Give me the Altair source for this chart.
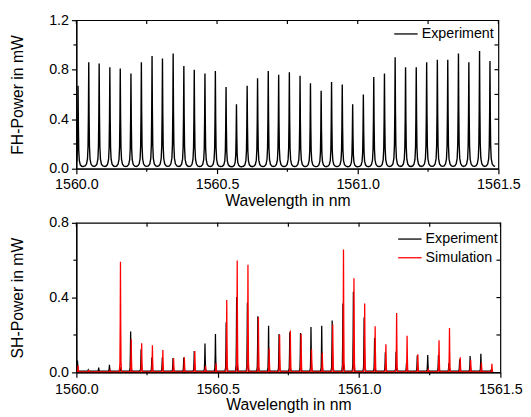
import altair as alt
import pandas as pd

# ---------------- data ----------------
X_DOMAIN = [1560.0, 1561.5]
x_major = [1560.0, 1560.5, 1561.0, 1561.5]
x_minor = [1560.25, 1560.75, 1561.25]
x_quarter = [1560.0, 1560.25, 1560.5, 1560.75, 1561.0, 1561.25, 1561.5]

# comb line positions (nm)
peak_wl = [1560.006, 1560.044, 1560.081, 1560.119, 1560.156, 1560.194, 1560.231, 1560.269,
           1560.306, 1560.344, 1560.382, 1560.419, 1560.457, 1560.494, 1560.532, 1560.569,
           1560.607, 1560.644, 1560.682, 1560.719, 1560.757, 1560.795, 1560.832, 1560.870,
           1560.907, 1560.945, 1560.982, 1561.020, 1561.057, 1561.095, 1561.133, 1561.170,
           1561.208, 1561.245, 1561.283, 1561.320, 1561.358, 1561.395, 1561.433, 1561.470]

# FH peak powers (mW)
fh_exp = [0.67, 0.86, 0.85, 0.82, 0.81, 0.77, 0.86, 0.91, 0.89, 0.93,
          0.83, 0.80, 0.77, 0.79, 0.66, 0.52, 0.67, 0.73, 0.79, 0.76,
          0.78, 0.75, 0.69, 0.63, 0.70, 0.68, 0.52, 0.60, 0.74, 0.77,
          0.90, 0.82, 0.82, 0.86, 0.88, 0.88, 0.93, 0.86, 0.95, 0.87]

# SH peak powers (mW)
sh_exp = [0.063, 0.006, 0.025, 0.040, 0.030, 0.219, 0.124, 0.079, 0.079, 0.077,
          0.080, 0.114, 0.154, 0.205, 0.268, 0.403, 0.373, 0.300, 0.249, 0.205,
          0.215, 0.210, 0.242, 0.250, 0.277, 0.368, 0.431, 0.294, 0.184, 0.107,
          0.110, 0.050, 0.090, 0.093, 0.093, 0.050, 0.070, 0.088, 0.099, 0.014]
sh_sim = [0.037, 0.012, 0.005, 0.010, 0.592, 0.177, 0.156, 0.145, 0.119, 0.077,
          0.081, 0.114, 0.035, 0.049, 0.387, 0.599, 0.576, 0.296, 0.128, 0.201,
          0.224, 0.207, 0.124, 0.105, 0.256, 0.657, 0.504, 0.368, 0.247, 0.151,
          0.317, 0.196, 0.097, 0.020, 0.172, 0.237, 0.081, 0.067, 0.051, 0.046]

# line shape around each comb line (offset in nm -> fraction of peak)
fh_off = [0.0, 0.0012, 0.0025, 0.0045, 0.008, 0.013, 0.0185]
fh_frac = [1.0, 0.5, 0.2, 0.08, 0.03, 0.012, 0.008]
fh_base = 0.012
sh_off = [0.0, 0.0009, 0.002, 0.004]
sh_frac = [1.0, 0.45, 0.08, 0.0]
sh_exp_base = 0.007
sh_sim_base = 0.002
sh_exp_shift = -0.002

series_names = ["Experiment", "Simulation"]
series_colors = ["black", "red"]


def spectrum(centres, peaks, offs, fracs, base, name, shift=0.0):
    rows = []
    for c, pk in zip(centres, peaks):
        for o, f in zip(offs, fracs):
            for s in ([0] if o == 0 else [-1, 1]):
                rows.append((c + shift + s * o, base + (pk - base) * f if pk > base else base + pk * f))
    rows.sort()
    return pd.DataFrame({"wl": [r[0] for r in rows], "p": [r[1] for r in rows], "series": name})


df_fh = spectrum(peak_wl, fh_exp, fh_off, fh_frac, fh_base, "Experiment")
df_sh_exp = spectrum(peak_wl, sh_exp, sh_off, sh_frac, sh_exp_base, "Experiment", sh_exp_shift)
df_sh_sim = spectrum(peak_wl, sh_sim, sh_off, sh_frac, sh_sim_base, "Simulation")

FONT = "Liberation Sans"
W1, H1 = 429, 151
W2, H2 = 431, 152


def make_panel(width, height, ydomain, yvalues, yminor, yright, ytitle, lines, widths,
               color_domain, color_range, legend_x, legend_y, label_pad):
    xscale = alt.Scale(domain=X_DOMAIN, nice=False, zero=False)
    yscale = alt.Scale(domain=ydomain, nice=False, zero=False)
    xaxis = alt.Axis(values=x_major, format=".1f", title="Wavelength in nm", tickSize=5,
                     labelPadding=label_pad, labelFlush=False, labelOverlap=False,
                     titleBaseline="alphabetic", titleY=37.5, grid=False)
    yaxis = alt.Axis(values=yvalues, format=".1f", title=ytitle, tickSize=5, labelPadding=3,
                     labelFlush=False, labelOverlap=False, titleAngle=270, titleBaseline="middle",
                     titleAlign="center", titleX=-59.5, titleY=height / 2, grid=False)
    X = lambda: alt.X("wl:Q", scale=xscale, axis=xaxis)
    Y = lambda: alt.Y("p:Q", scale=yscale, axis=yaxis)
    color = alt.Color("series:N", scale=alt.Scale(domain=color_domain, range=color_range),
                      legend=alt.Legend(title=None, orient="none", legendX=legend_x, legendY=legend_y,
                                        symbolType="M-1.7,0H1.7", symbolSize=196, symbolStrokeWidth=1.3,
                                        labelFontSize=14.5, labelFont=FONT, labelColor="black",
                                        labelOffset=8, padding=0, rowPadding=4))
    layers = []
    for df, sw in zip(lines, widths):
        layers.append(alt.Chart(df).mark_line(strokeWidth=sw, clip=True).encode(x=X(), y=Y(), color=color))

    rule = dict(color="black", strokeWidth=1.2)
    xm = pd.DataFrame({"wl": x_minor})
    xq = pd.DataFrame({"wl": x_quarter})
    ym = pd.DataFrame({"p": yminor})
    yr = pd.DataFrame({"p": yright})
    layers.append(alt.Chart(xm).mark_rule(**rule).encode(x=X(), y=alt.value(height), y2=alt.value(height + 3)))
    layers.append(alt.Chart(xq).mark_rule(**rule).encode(x=X(), y=alt.value(0), y2=alt.value(4)))
    layers.append(alt.Chart(ym).mark_rule(**rule).encode(y=Y(), x=alt.value(0), x2=alt.value(-3)))
    layers.append(alt.Chart(yr).mark_rule(**rule).encode(y=Y(), x=alt.value(width), x2=alt.value(width - 4)))
    return alt.layer(*layers).properties(width=width, height=height)


top = make_panel(W1, H1, [0, 1.2], [0, 0.4, 0.8, 1.2], [0.2, 0.6, 1.0], [0.2, 0.4, 0.6, 0.8, 1.0],
                 "FH-Power in mW", [df_fh], [1.4], ["Experiment"], ["black"], 327, 6, 4)
bottom = make_panel(W2, H2, [0, 0.8], [0, 0.4, 0.8], [0.2, 0.6], [0.2, 0.4, 0.6],
                    "SH-Power in mW", [df_sh_exp, df_sh_sim], [1.3, 1.3], series_names, series_colors,
                    331, 8.5, 5)

chart = alt.vconcat(top, bottom, spacing=55, bounds="flush").resolve_scale(
    x="independent", y="independent", color="independent"
).properties(
    padding={"left": 0.5, "top": 0, "right": 0, "bottom": 0},
).configure(font=FONT).configure_view(
    stroke="black", strokeWidth=1.2
).configure_axis(
    domainColor="black", domainWidth=1.2, tickColor="black", tickWidth=1.2,
    labelColor="black", titleColor="black", labelFont=FONT, titleFont=FONT,
    labelFontSize=14.5, titleFontSize=16, titleFontWeight="normal",
)

chart.save("out.html", embed_options={"renderer": "svg", "actions": False})
